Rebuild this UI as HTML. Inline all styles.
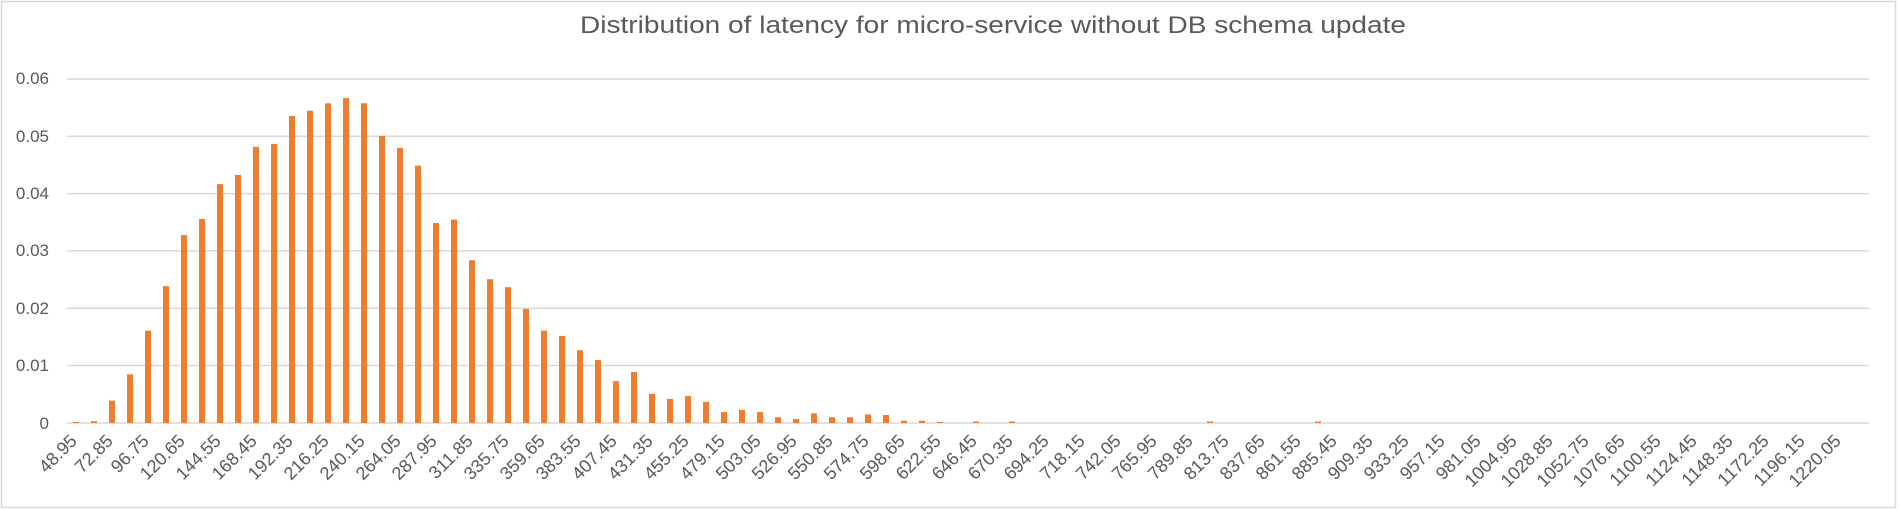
<!DOCTYPE html>
<html><head><meta charset="utf-8"><style>
html,body{margin:0;padding:0;background:#fff}
svg{display:block}
text{font-family:"Liberation Sans",sans-serif;fill:#595959}
</style></head><body>
<svg width="1899" height="510" viewBox="0 0 1899 510" xmlns="http://www.w3.org/2000/svg">
<rect x="1.5" y="1.5" width="1894" height="506" fill="#fff" stroke="#d9d9d9" stroke-width="1.5"/>
<text x="580" y="33" font-size="24" textLength="826" lengthAdjust="spacingAndGlyphs">Distribution of latency for micro-service without DB schema update</text>
<g stroke="#d9d9d9" stroke-width="1.5">
<line x1="67" x2="1869" y1="79" y2="79"/><line x1="67" x2="1869" y1="136.3" y2="136.3"/><line x1="67" x2="1869" y1="193.6" y2="193.6"/><line x1="67" x2="1869" y1="250.9" y2="250.9"/><line x1="67" x2="1869" y1="308.2" y2="308.2"/><line x1="67" x2="1869" y1="365.5" y2="365.5"/><line x1="67" x2="1869" y1="423" y2="423"/>
</g>
<g font-size="17" text-anchor="end">
<text x="49" y="84">0.06</text><text x="49" y="142">0.05</text><text x="49" y="199">0.04</text><text x="49" y="256">0.03</text><text x="49" y="314">0.02</text><text x="49" y="371">0.01</text><text x="49" y="429">0</text>
</g>
<g fill="#ed7d31">
<rect x="73" y="422" width="6" height="1"/>
<rect x="91" y="421.3" width="6" height="1.7"/>
<rect x="109" y="400.7" width="6" height="22.3"/>
<rect x="127" y="374.3" width="6" height="48.7"/>
<rect x="145" y="330.7" width="6" height="92.3"/>
<rect x="163" y="286.1" width="6" height="136.9"/>
<rect x="181" y="235.1" width="6" height="187.9"/>
<rect x="199" y="219" width="6" height="204"/>
<rect x="217" y="184.1" width="6" height="238.9"/>
<rect x="235" y="174.9" width="6" height="248.1"/>
<rect x="253" y="146.8" width="6" height="276.2"/>
<rect x="271" y="143.9" width="6" height="279.1"/>
<rect x="289" y="115.9" width="6" height="307.1"/>
<rect x="307" y="110.7" width="6" height="312.3"/>
<rect x="325" y="103.3" width="6" height="319.7"/>
<rect x="343" y="98.1" width="6" height="324.9"/>
<rect x="361" y="103.3" width="6" height="319.7"/>
<rect x="379" y="135.9" width="6" height="287.1"/>
<rect x="397" y="148" width="6" height="275"/>
<rect x="415" y="165.7" width="6" height="257.3"/>
<rect x="433" y="223" width="6" height="200"/>
<rect x="451" y="219.6" width="6" height="203.4"/>
<rect x="469" y="260.3" width="6" height="162.7"/>
<rect x="487" y="279.2" width="6" height="143.8"/>
<rect x="505" y="287.2" width="6" height="135.8"/>
<rect x="523" y="309" width="6" height="114"/>
<rect x="541" y="330.7" width="6" height="92.3"/>
<rect x="559" y="335.9" width="6" height="87.1"/>
<rect x="577" y="350.2" width="6" height="72.8"/>
<rect x="595" y="360" width="6" height="63"/>
<rect x="613" y="381.2" width="6" height="41.8"/>
<rect x="631" y="372" width="6" height="51"/>
<rect x="649" y="393.8" width="6" height="29.2"/>
<rect x="667" y="398.9" width="6" height="24.1"/>
<rect x="685" y="396.1" width="6" height="26.9"/>
<rect x="703" y="401.8" width="6" height="21.2"/>
<rect x="721" y="412.1" width="6" height="10.9"/>
<rect x="739" y="409.8" width="6" height="13.2"/>
<rect x="757" y="412.1" width="6" height="10.9"/>
<rect x="775" y="417.3" width="6" height="5.7"/>
<rect x="793" y="419" width="6" height="4"/>
<rect x="811" y="413.3" width="6" height="9.7"/>
<rect x="829" y="417.3" width="6" height="5.7"/>
<rect x="847" y="417.3" width="6" height="5.7"/>
<rect x="865" y="414.4" width="6" height="8.6"/>
<rect x="883" y="415" width="6" height="8"/>
<rect x="901" y="420.7" width="6" height="2.3"/>
<rect x="919" y="420.7" width="6" height="2.3"/>
<rect x="937" y="421.9" width="6" height="1.1"/>
<rect x="973" y="421.5" width="6" height="1.5"/>
<rect x="1009" y="421.5" width="6" height="1.5"/>
<rect x="1207" y="421.5" width="6" height="1.5"/>
<rect x="1315" y="421.5" width="6" height="1.5"/>
</g>
<g font-size="18" text-anchor="end">
<text transform="translate(78,442) rotate(-45)">48.95</text>
<text transform="translate(114,442) rotate(-45)">72.85</text>
<text transform="translate(150,442) rotate(-45)">96.75</text>
<text transform="translate(186,442) rotate(-45)">120.65</text>
<text transform="translate(222,442) rotate(-45)">144.55</text>
<text transform="translate(258,442) rotate(-45)">168.45</text>
<text transform="translate(294,442) rotate(-45)">192.35</text>
<text transform="translate(330,442) rotate(-45)">216.25</text>
<text transform="translate(366,442) rotate(-45)">240.15</text>
<text transform="translate(402,442) rotate(-45)">264.05</text>
<text transform="translate(438,442) rotate(-45)">287.95</text>
<text transform="translate(474,442) rotate(-45)">311.85</text>
<text transform="translate(510,442) rotate(-45)">335.75</text>
<text transform="translate(546,442) rotate(-45)">359.65</text>
<text transform="translate(582,442) rotate(-45)">383.55</text>
<text transform="translate(618,442) rotate(-45)">407.45</text>
<text transform="translate(654,442) rotate(-45)">431.35</text>
<text transform="translate(690,442) rotate(-45)">455.25</text>
<text transform="translate(726,442) rotate(-45)">479.15</text>
<text transform="translate(762,442) rotate(-45)">503.05</text>
<text transform="translate(798,442) rotate(-45)">526.95</text>
<text transform="translate(834,442) rotate(-45)">550.85</text>
<text transform="translate(870,442) rotate(-45)">574.75</text>
<text transform="translate(906,442) rotate(-45)">598.65</text>
<text transform="translate(942,442) rotate(-45)">622.55</text>
<text transform="translate(978,442) rotate(-45)">646.45</text>
<text transform="translate(1014,442) rotate(-45)">670.35</text>
<text transform="translate(1050,442) rotate(-45)">694.25</text>
<text transform="translate(1086,442) rotate(-45)">718.15</text>
<text transform="translate(1122,442) rotate(-45)">742.05</text>
<text transform="translate(1158,442) rotate(-45)">765.95</text>
<text transform="translate(1194,442) rotate(-45)">789.85</text>
<text transform="translate(1230,442) rotate(-45)">813.75</text>
<text transform="translate(1266,442) rotate(-45)">837.65</text>
<text transform="translate(1302,442) rotate(-45)">861.55</text>
<text transform="translate(1338,442) rotate(-45)">885.45</text>
<text transform="translate(1374,442) rotate(-45)">909.35</text>
<text transform="translate(1410,442) rotate(-45)">933.25</text>
<text transform="translate(1446,442) rotate(-45)">957.15</text>
<text transform="translate(1482,442) rotate(-45)">981.05</text>
<text transform="translate(1518,442) rotate(-45)">1004.95</text>
<text transform="translate(1554,442) rotate(-45)">1028.85</text>
<text transform="translate(1590,442) rotate(-45)">1052.75</text>
<text transform="translate(1626,442) rotate(-45)">1076.65</text>
<text transform="translate(1662,442) rotate(-45)">1100.55</text>
<text transform="translate(1698,442) rotate(-45)">1124.45</text>
<text transform="translate(1734,442) rotate(-45)">1148.35</text>
<text transform="translate(1770,442) rotate(-45)">1172.25</text>
<text transform="translate(1806,442) rotate(-45)">1196.15</text>
<text transform="translate(1842,442) rotate(-45)">1220.05</text>
</g>
</svg>
</body></html>
